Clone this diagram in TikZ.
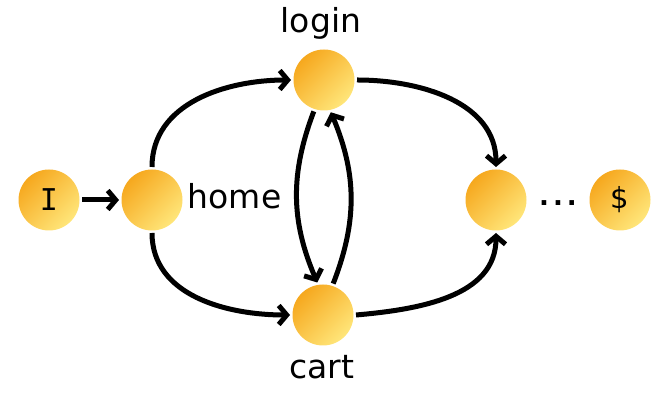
\documentclass[tikz,border=0pt]{standalone}
\usepackage{fontspec}
\setmainfont{DejaVu Sans}
\setmonofont{DejaVu Sans Mono}
\usetikzlibrary{arrows.meta}
\definecolor{balldark}{RGB}{246,168,30}
\definecolor{balllight}{RGB}{255,230,122}

\begin{document}
\begin{tikzpicture}[x=1pt,y=1pt,->,>={Straight Barb[length=8pt,width=19pt]},line width=5pt]
              \useasboundingbox (0,0) rectangle (652,395);
              \tikzset{ball/.style={shape=circle,minimum size=61pt,inner sep=0pt,
                  top color=balldark,bottom color=balllight,shading angle=45,
                  font=\fontsize{29}{33}\selectfont},
                lbl/.style={anchor=base,font=\fontsize{33}{37}\selectfont}};
                \node[ball,font=\ttfamily\fontsize{30}{34}\selectfont] (I) at (49,195) {I};
                \node[ball] (home) at (152,195) {};
                \node[ball] (login) at (324,315) {};
                \node[ball] (cart) at (323,80) {};
                \node[ball] (next) at (496,195) {};
                \node[ball] (pay) at (620,195) {\$};

                \node[lbl] (loginlbl) at (321,362) {login};
                \node[lbl] (cartlbl) at (322,16) {cart};
                \node[lbl,anchor=base west] (homelbl) at (182,186) {home};
                \node[lbl,font=\bfseries\fontsize{26}{34}\selectfont] (dots) at (558,189) {.\kern4pt.\kern4pt.};

                \path[draw] (I) -- (home);
                \path[draw] (home.north) to[out=90,in=180] (login.west);
                \path[draw] (home.south) to[out=-90,in=180] (cart.west);
                \path[draw] (login.east) to[out=0,in=90] (next.north);
                \path[draw] (cart.east) to[out=5,in=-90] (next.south);
                \path[draw] (login.-108) to[bend right=22] (cart.100);
                \path[draw] (cart.72) to[bend right=22] (login.-78);
            \end{tikzpicture}
\end{document}
